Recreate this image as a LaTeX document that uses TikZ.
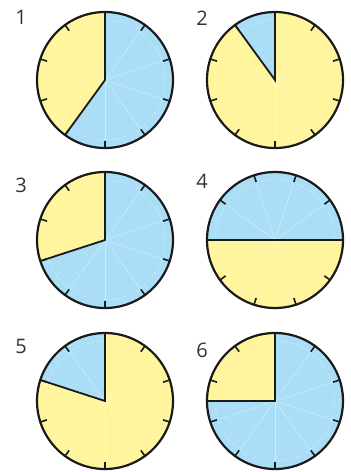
\documentclass[tikz,border=0pt]{standalone}
\usepackage{fontspec}
\setmainfont{Open Sans}
\usepackage{xcolor}
\usepackage{tikz}
\usetikzlibrary{calc}
\definecolor{dialblue}{HTML}{A9DEF6}
\definecolor{dialyellow}{HTML}{FFF59D}
\definecolor{ink}{HTML}{1A1A1A}
\definecolor{numgray}{HTML}{333333}
\tikzset{
  rim/.style={draw=ink,line width=2.2pt},
  cut/.style={draw=ink,line width=1.8pt,line join=miter},
  tick/.style={draw=ink,line width=1.6pt},
  faint/.style={draw=white,line width=0.5pt,opacity=0.45},
  dialnum/.style={font=\fontsize{20}{24}\selectfont,text=numgray,inner sep=0pt},
}
\begin{document}
\begin{tikzpicture}[x=1pt,y=1pt]
  \useasboundingbox (0,0) rectangle (351,-472);
  % i / centre / base colour / sector colour / sector from-to / tick offset / label
  \foreach \i/\cx/\cy/\bg/\fg/\a/\b/\rot/\lx/\ly in {
    1/105/80/dialblue/dialyellow/90/234/90/21/17,
    2/275/80/dialyellow/dialblue/90/126/90/202/18,
    3/105/240/dialblue/dialyellow/90/198/90/21/185,
    4/275/240/dialyellow/dialblue/0/180/108/202/181,
    5/105/401/dialyellow/dialblue/90/162/90/21/346,
    6/275/401/dialblue/dialyellow/90/180/90/202/350
  }{
    \coordinate (c\i) at (\cx,-\cy);
    \fill[\bg] (c\i) circle[radius=68];
    \fill[\fg] (c\i) -- ++(\a:68) arc[start angle=\a,end angle=\b,radius=68] -- cycle;
    % faint guide lines
    \draw[faint,dash pattern=on 3pt off 2pt] (c\i) circle[radius=60];
    \foreach \k in {0,...,9}{
      \draw[faint] (c\i) -- ++(\rot+36*\k:60);
    }
    \foreach \k in {0,...,9}{
      \draw[tick] ($(c\i)+(\rot+36*\k:61)$) -- ($(c\i)+(\rot+36*\k:68)$);
    }
    \draw[cut] ($(c\i)+(\a:68)$) -- (c\i) -- ($(c\i)+(\b:68)$);
    \draw[rim] (c\i) circle[radius=68];
    \node[dialnum] (lbl\i) at (\lx,-\ly) {\i};
  }
\end{tikzpicture}
\end{document}
